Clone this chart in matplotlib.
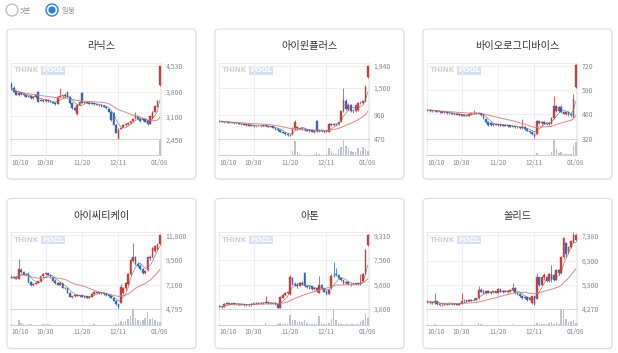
import matplotlib
matplotlib.use('Agg')
import matplotlib.pyplot as plt
from matplotlib.patches import FancyBboxPatch, Circle
import pandas as pd

plt.rcParams['font.family'] = ['Noto Sans CJK KR', 'DejaVu Sans']

# 종목 / 축 라벨
names = ['라닉스', '아이윈플러스', '바이오로그디바이스', '아이씨티케이', '아톤', '쏠리드']
date_labels = ['10/10', '10/30', '11/20', '12/11', '01/08']
date_pos = [0, 14, 29, 44, 61]
price_labels = [
    [4530, 3800, 3100, 2450],
    [1940, 1500, 960, 470],
    [720, 590, 460, 320],
    [11800, 9500, 7100, 4795],
    [9310, 7500, 5600, 3800],
    [7380, 6300, 5300, 4270],
]

# 라닉스
ranix_open = [4030, 3900, 3820, 3720, 3760, 3730, 3700, 3660, 3690, 3610, 3640, 3800, 3540, 3570, 3540, 3560,
              3530, 3510, 3490, 3450, 3660, 3690, 3700, 3800, 3660, 3480, 3340, 3170, 3430, 3760, 3490, 3500,
              3480, 3460, 3470, 3440, 3430, 3410, 3400, 3380, 3300, 3240, 3200, 2870, 2460, 2760, 2800, 2860,
              2890, 2910, 2960, 3060, 3100, 3040, 3000, 3020, 2960, 2900, 3060, 3240, 3380, 3990]
ranix_high = [4080, 3950, 3850, 3790, 3780, 3760, 3720, 3710, 3700, 3660, 3720, 3830, 3600, 3580, 3580, 3590,
              3560, 3530, 3500, 3690, 3890, 3720, 3760, 3830, 3680, 3500, 3380, 3450, 3540, 3800, 3530, 3520,
              3500, 3490, 3480, 3460, 3450, 3430, 3410, 3390, 3320, 3260, 3220, 2880, 2770, 2800, 2880, 2900,
              2930, 2980, 3060, 3220, 3120, 3060, 3040, 3050, 2990, 3120, 3260, 3420, 3560, 4530]
ranix_low = [3850, 3780, 3700, 3690, 3700, 3690, 3640, 3640, 3590, 3600, 3620, 3500, 3530, 3520, 3510, 3520,
             3500, 3470, 3430, 3440, 3640, 3650, 3650, 3640, 3460, 3320, 3260, 3130, 3410, 3470, 3480, 3470,
             3440, 3440, 3430, 3410, 3400, 3380, 3360, 3320, 3220, 2960, 2850, 2620, 2450, 2740, 2790, 2840,
             2870, 2900, 2950, 3040, 3020, 2940, 2980, 2930, 2860, 2880, 3040, 3220, 3360, 3960]
ranix_close = [3900, 3800, 3720, 3760, 3730, 3700, 3660, 3690, 3610, 3640, 3700, 3520, 3570, 3540, 3560, 3530,
               3510, 3490, 3450, 3660, 3690, 3700, 3670, 3660, 3480, 3340, 3290, 3430, 3520, 3490, 3500, 3480,
               3460, 3470, 3440, 3430, 3410, 3400, 3380, 3340, 3240, 3000, 2870, 2640, 2730, 2780, 2860, 2890,
               2910, 2960, 3040, 3140, 3040, 2960, 3020, 2950, 2900, 3100, 3240, 3400, 3540, 4520]
ranix_vol = [3, 2, 2, 2, 2, 1, 1, 1, 1, 1, 2, 3, 1, 1, 1, 1, 1, 1, 1, 3, 4, 2, 1, 2, 2, 3, 2, 3, 2, 3, 1, 1,
             1, 1, 1, 1, 1, 1, 1, 1, 2, 4, 4, 5, 6, 2, 2, 1, 1, 1, 2, 3, 2, 1, 1, 1, 1, 3, 4, 5, 6, 100]

# 아이윈플러스
iwin_open = [840, 830, 825, 815, 820, 805, 800, 790, 795, 775, 780, 760, 770, 745, 750, 730,
             740, 735, 740, 750, 735, 720, 735, 705, 670, 650, 620, 600, 570, 555, 570, 670,
             720, 670, 690, 670, 655, 640, 650, 620, 830, 640, 660, 630, 640, 620, 770, 760,
             785, 770, 830, 1040, 1240, 1080, 1160, 1040, 1030, 1060, 1200, 1190, 1230, 1720]
iwin_high = [850, 840, 835, 830, 825, 815, 810, 805, 800, 790, 785, 775, 775, 760, 755, 745,
             750, 745, 760, 755, 745, 740, 740, 710, 690, 665, 640, 610, 590, 575, 710, 850,
             740, 700, 700, 690, 670, 660, 660, 650, 850, 680, 670, 650, 660, 790, 800, 790,
             800, 830, 1060, 1500, 1280, 1200, 1180, 1080, 1170, 1210, 1230, 1240, 1560, 1940]
iwin_low = [815, 810, 805, 800, 795, 790, 780, 775, 770, 765, 755, 745, 740, 735, 725, 725,
            730, 720, 735, 730, 715, 715, 700, 660, 640, 610, 590, 560, 540, 540, 565, 660,
            660, 650, 660, 645, 630, 620, 610, 600, 620, 610, 620, 600, 610, 610, 740, 745,
            760, 765, 820, 1020, 1050, 1030, 1020, 1000, 1020, 1040, 1170, 1170, 1220, 1700]
iwin_close = [830, 825, 815, 820, 805, 800, 790, 795, 775, 780, 760, 770, 745, 750, 730, 740,
              735, 740, 750, 735, 720, 735, 705, 670, 650, 620, 600, 570, 555, 565, 700, 820,
              670, 690, 670, 655, 640, 650, 620, 640, 640, 660, 630, 640, 620, 770, 760, 785,
              770, 820, 1030, 1260, 1080, 1160, 1040, 1030, 1160, 1200, 1190, 1230, 1520, 1930]
iwin_vol = [3, 2, 2, 3, 2, 2, 2, 3, 2, 2, 2, 3, 2, 2, 3, 2, 2, 2, 4, 2, 2, 2, 3, 4, 4, 5, 4, 5, 5, 4, 30, 95,
            20, 8, 6, 6, 5, 5, 6, 7, 25, 8, 6, 6, 8, 45, 30, 15, 10, 40, 55, 100, 60, 45, 30, 20, 25, 45,
            30, 55, 40, 30]

# 바이오로그디바이스
biolog_open = [480, 478, 480, 474, 476, 470, 472, 466, 468, 462, 464, 458, 460, 454, 456, 450,
               452, 448, 458, 462, 466, 462, 464, 452, 434, 414, 410, 400, 404, 400, 402, 396,
               400, 394, 398, 390, 392, 386, 388, 380, 390, 376, 368, 360, 340, 352, 418, 408,
               416, 406, 410, 404, 436, 500, 476, 496, 470, 460, 468, 456, 440, 606]
biolog_high = [486, 484, 482, 480, 478, 476, 474, 472, 470, 468, 466, 462, 462, 458, 458, 456,
               454, 460, 466, 480, 470, 468, 466, 456, 438, 420, 414, 408, 410, 406, 404, 404,
               402, 400, 400, 396, 394, 392, 390, 430, 394, 380, 372, 364, 356, 424, 422, 420,
               418, 412, 414, 440, 554, 510, 500, 510, 476, 472, 470, 464, 566, 728]
biolog_low = [474, 472, 470, 468, 468, 466, 464, 462, 460, 458, 456, 452, 452, 450, 448, 446,
              446, 446, 454, 456, 458, 456, 450, 430, 410, 392, 396, 394, 398, 394, 394, 392,
              392, 390, 388, 386, 384, 382, 378, 378, 372, 364, 356, 346, 326, 348, 404, 400,
              402, 398, 400, 402, 430, 470, 470, 466, 456, 454, 450, 444, 436, 600]
biolog_close = [478, 480, 474, 476, 470, 472, 466, 468, 462, 464, 458, 460, 454, 456, 450, 452,
                448, 458, 462, 466, 462, 464, 452, 434, 414, 398, 400, 404, 400, 402, 396, 400,
                394, 398, 390, 392, 386, 388, 380, 390, 376, 368, 360, 350, 352, 418, 408, 416,
                406, 410, 404, 436, 500, 476, 496, 470, 460, 468, 456, 452, 540, 722]
biolog_vol = [2, 2, 1, 1, 1, 1, 1, 1, 1, 1, 1, 1, 1, 1, 1, 1, 1, 2, 2, 3, 2, 1, 1, 2, 3, 3, 2, 1, 1, 1, 1, 1,
              1, 1, 1, 1, 1, 1, 1, 3, 2, 2, 2, 2, 4, 15, 6, 4, 3, 2, 2, 20, 100, 40, 15, 25, 12, 10, 8, 10,
              70, 85]

# 아이씨티케이
ictk_open = [7850, 7750, 7850, 7650, 8550, 8300, 8050, 8100, 7350, 7100, 7200, 7300, 7450, 7900, 8150, 8200,
             8050, 7800, 7500, 7250, 7100, 7250, 6800, 6750, 6350, 5950, 6000, 6150, 6050, 6100, 5950, 6000,
             5850, 5950, 6250, 6450, 6350, 6400, 6300, 6200, 6100, 6000, 5850, 5600, 5250, 5400, 6300, 6750,
             7200, 8100, 9400, 9700, 9100, 8900, 8600, 8200, 8500, 9700, 9700, 10300, 10500, 10950]
ictk_high = [8000, 7900, 7900, 9560, 8700, 8400, 8150, 8300, 7450, 7250, 7350, 7500, 7950, 8250, 8300, 8250,
             8100, 7850, 7600, 7350, 7400, 7300, 6900, 6800, 6400, 6050, 6200, 6200, 6150, 6150, 6050, 6050,
             6000, 6300, 6500, 6500, 6450, 6450, 6350, 6250, 6150, 6050, 5900, 5650, 5300, 7200, 6900, 7400,
             8200, 9600, 11100, 9800, 9300, 9100, 8700, 8500, 9800, 9900, 10700, 10900, 11000, 11850]
ictk_low = [7700, 7700, 7600, 7600, 8200, 8000, 7900, 7300, 7000, 7000, 7150, 7250, 7400, 7850, 8050, 8000,
            7750, 7450, 7200, 7050, 7050, 6750, 6700, 6300, 5900, 5800, 5950, 6000, 5950, 5900, 5850, 5800,
            5800, 5900, 6200, 6300, 6250, 6250, 6150, 6050, 5950, 5800, 5550, 5200, 4830, 5350, 6200, 6600,
            7100, 8000, 9300, 9000, 8800, 8500, 8100, 8100, 8450, 9500, 9650, 10200, 10400, 10900]
ictk_close = [7750, 7850, 7650, 8600, 8300, 8050, 8100, 7350, 7100, 7200, 7300, 7450, 7900, 8150, 8200, 8050,
              7800, 7500, 7250, 7100, 7250, 6800, 6750, 6350, 5950, 6000, 6150, 6050, 6100, 5950, 6000, 5850,
              5950, 6250, 6450, 6350, 6400, 6300, 6200, 6100, 6000, 5850, 5600, 5250, 5000, 6900, 6750, 7300,
              8100, 9500, 9700, 9100, 8900, 8600, 8200, 8450, 9700, 9600, 10600, 10800, 10950, 11800]
ictk_vol = [4, 3, 3, 35, 10, 4, 3, 5, 4, 3, 2, 2, 3, 4, 8, 8, 7, 3, 2, 2, 3, 2, 2, 3, 3, 2, 2, 2, 2, 2, 2, 2,
            2, 3, 4, 3, 2, 2, 2, 2, 2, 2, 3, 4, 10, 25, 20, 25, 40, 60, 100, 45, 30, 25, 30, 45, 80, 40,
            45, 30, 25, 20]

# 아톤
aton_open = [4050, 3980, 3950, 4200, 4250, 4180, 4230, 4150, 4200, 4130, 4150, 4080, 4120, 4070, 4200, 4250,
             4220, 4280, 4230, 4260, 4300, 4240, 4200, 4250, 4150, 3900, 4650, 4850, 5000, 4900, 6100, 5700,
             5600, 5550, 5750, 6500, 5500, 5450, 5500, 5300, 5350, 5000, 5600, 5350, 5100, 4950, 5350, 6300,
             6450, 6350, 6100, 5950, 5750, 5850, 5650, 5700, 5650, 5720, 5650, 5900, 6450, 8550]
aton_high = [4100, 4020, 4250, 4300, 4280, 4260, 4270, 4250, 4230, 4200, 4180, 4150, 4160, 4250, 4280, 4300,
             4310, 4320, 4300, 4750, 4330, 4300, 4280, 4300, 4180, 4780, 4900, 5050, 5150, 6350, 6200, 5850,
             5750, 5800, 5900, 6600, 5600, 5550, 5520, 5400, 5380, 6300, 5650, 5400, 5200, 5300, 6400, 7350,
             6900, 6400, 6150, 6000, 5900, 5880, 5750, 5720, 5750, 5780, 6450, 6500, 8250, 9420]
aton_low = [3950, 3900, 3940, 4150, 4150, 4150, 4120, 4100, 4100, 4080, 4060, 4050, 4050, 4050, 4150, 4180,
            4200, 4200, 4180, 4220, 4200, 4180, 4150, 4130, 3850, 3880, 4600, 4800, 4950, 4880, 5600, 5500,
            5400, 5500, 5600, 5450, 5350, 5300, 5250, 5200, 5100, 4980, 5300, 5050, 4850, 4900, 5300, 6200,
            6300, 6050, 5900, 5700, 5650, 5600, 5550, 5600, 5580, 5600, 5600, 5850, 6400, 8500]
aton_close = [3980, 3950, 4200, 4250, 4180, 4230, 4150, 4200, 4130, 4150, 4080, 4120, 4070, 4200, 4250, 4220,
              4280, 4230, 4260, 4300, 4240, 4200, 4250, 4150, 3900, 4700, 4850, 5000, 5100, 6200, 5700, 5600,
              5550, 5750, 5650, 5500, 5450, 5500, 5300, 5350, 5150, 5600, 5350, 5100, 4950, 5250, 6300, 6250,
              6350, 6100, 5950, 5750, 5850, 5650, 5700, 5650, 5720, 5650, 5850, 6450, 8200, 9310]
aton_vol = [2, 2, 3, 3, 2, 2, 2, 2, 2, 2, 2, 2, 2, 3, 3, 2, 2, 2, 2, 15, 3, 2, 2, 2, 4, 12, 8, 6, 8, 65, 35, 30,
            20, 25, 20, 35, 10, 6, 6, 5, 6, 60, 10, 6, 6, 15, 40, 100, 35, 15, 8, 6, 6, 5, 5, 5, 6, 6, 25, 35,
            70, 45]

# 쏠리드
solid_open = [4600, 4560, 4580, 4520, 4600, 4460, 4420, 4450, 4500, 4460, 4510, 4470, 4490, 4450, 4500, 4620,
              4600, 4640, 4610, 4670, 4650, 4730, 5080, 5000, 4950, 5020, 4960, 4980, 5010, 4950, 5100, 5000,
              5050, 4990, 5040, 5060, 5150, 4950, 4920, 4800, 4740, 4760, 4660, 4520, 4800, 4700, 5600, 5300,
              5620, 5600, 5450, 5750, 5700, 5500, 5900, 5780, 6470, 7050, 6700, 6900, 7100, 7200]
solid_high = [4650, 4600, 4620, 4950, 4620, 4500, 4480, 4520, 4530, 4540, 4530, 4520, 4510, 4520, 4950, 4680,
              4660, 4680, 4700, 4720, 4750, 5220, 5150, 5100, 5050, 5060, 5000, 5050, 5040, 5150, 5120, 5080,
              5080, 5060, 5100, 5360, 5180, 5000, 4950, 4850, 4800, 4780, 4760, 4830, 4820, 5780, 5620, 5650,
              5800, 5650, 5780, 6130, 5740, 5950, 5950, 6500, 7320, 7100, 6950, 7180, 7520, 7420]
solid_low = [4530, 4500, 4500, 4500, 4440, 4400, 4380, 4420, 4430, 4440, 4440, 4430, 4420, 4430, 4480, 4580,
             4570, 4590, 4590, 4630, 4630, 4700, 4980, 4900, 4900, 4940, 4900, 4950, 4930, 4930, 4980, 4960,
             4970, 4960, 5000, 5040, 4900, 4880, 4780, 4700, 4680, 4620, 4640, 4500, 4450, 4680, 5230, 5280,
             5500, 5400, 5420, 5400, 5450, 5480, 5700, 5760, 6400, 6480, 6650, 6850, 7050, 7150]
solid_close = [4560, 4580, 4520, 4600, 4460, 4420, 4450, 4500, 4460, 4510, 4470, 4490, 4450, 4500, 4620, 4600,
               4640, 4610, 4670, 4650, 4720, 5080, 5000, 4950, 5020, 4960, 4980, 5010, 4950, 5100, 5000, 5050,
               4990, 5040, 5060, 5150, 4950, 4920, 4800, 4740, 4760, 4660, 4720, 4800, 4500, 5640, 5280, 5620,
               5700, 5450, 5750, 5500, 5500, 5900, 5780, 6470, 7250, 6600, 6900, 7150, 7380, 7380]
solid_vol = [2, 2, 2, 8, 2, 1, 1, 1, 1, 1, 1, 1, 1, 1, 8, 2, 3, 2, 2, 2, 3, 10, 4, 2, 2, 2, 1, 1, 1, 3, 2, 1,
             1, 1, 2, 5, 3, 2, 2, 2, 1, 2, 2, 3, 4, 15, 8, 6, 6, 5, 10, 20, 8, 15, 8, 100, 95, 40, 20, 25,
             30, 15]

opens = [ranix_open, iwin_open, biolog_open, ictk_open, aton_open, solid_open]
highs = [ranix_high, iwin_high, biolog_high, ictk_high, aton_high, solid_high]
lows = [ranix_low, iwin_low, biolog_low, ictk_low, aton_low, solid_low]
closes = [ranix_close, iwin_close, biolog_close, ictk_close, aton_close, solid_close]
volumes = [ranix_vol, iwin_vol, biolog_vol, ictk_vol, aton_vol, solid_vol]

W, H = 618, 353
fig = plt.figure(figsize=(W / 100, H / 100), dpi=100)
fig.patch.set_facecolor('white')


def px(left, top, w, h):
    # 픽셀 좌표 -> figure 좌표
    return [left / W, 1 - (top + h) / H, w / W, h / H]


bg = fig.add_axes([0, 0, 1, 1])
bg.set_xlim(0, W)
bg.set_ylim(H, 0)
bg.axis('off')

# 상단 라디오 버튼
bg.add_patch(Circle((12, 10), 6, fc='white', ec='#b0b0b0', lw=0.8))
bg.text(19.5, 10.5, '5분', fontsize=5.5, color='#999999', va='center')
bg.add_patch(Circle((52, 10), 6, fc='white', ec='#2f7de1', lw=1.0))
bg.add_patch(Circle((52, 10), 3.6, fc='#2f7de1', ec='none'))
bg.text(61, 10.5, '일봉', fontsize=5.5, color='#999999', va='center')

card_left = [7, 215, 423]
card_top = [29, 198.5]
cw, ch = 189, 150

up_c, down_c = '#d33a3a', '#3565c4'

for k in range(6):
    cx = card_left[k % 3]
    cy = card_top[k // 3]
    bg.add_patch(FancyBboxPatch((cx + 0.6, cy + 0.8), cw, ch, boxstyle='round,pad=0,rounding_size=4',
                                fc='#f0f0f0', ec='none'))
    bg.add_patch(FancyBboxPatch((cx, cy), cw, ch, boxstyle='round,pad=0,rounding_size=4',
                                fc='white', ec='#dcdcdc', lw=0.8))
    bg.text(cx + cw / 2, cy + 17.5, names[k], fontsize=7.3, color='#333333', ha='center', va='center')
    # 워터마크
    bg.text(cx + 7, cy + 41.5, 'THINK', fontsize=5.2, color='#d2d2d2', fontweight='bold',
            va='center', family='DejaVu Sans')
    bg.text(cx + 35, cy + 41.5, 'POOL', fontsize=5.2, color='white', fontweight='bold', va='center',
            family='DejaVu Sans', bbox=dict(boxstyle='square,pad=0.15', fc='#d3e1f1', ec='none'))

    o = opens[k]; hi = highs[k]; lo = lows[k]; c = closes[k]; v = volumes[k]
    n = len(c)
    labs = price_labels[k]
    ymin, ymax = labs[-1], labs[0]
    yr = ymax - ymin

    ax = fig.add_axes(px(cx + 3, cy + 33.5, 151, 77))
    axv = fig.add_axes(px(cx + 3, cy + 110.5, 151, 16))
    ax.set_facecolor('none')
    axv.set_facecolor('none')

    for i in range(n):
        col = up_c if c[i] >= o[i] else down_c
        ax.vlines(i, lo[i], hi[i], color=col, lw=0.55, zorder=3)
        ax.bar(i, c[i] - o[i], bottom=o[i], width=0.7, color=col, ec=col, lw=0.3, zorder=4)

    s = pd.Series(c)
    ax.plot(range(n), s.rolling(20, min_periods=1).mean(), color='#d98a8a', lw=0.7, zorder=5)
    ax.plot(range(n), s.rolling(5, min_periods=1).mean(), color='#4f6a5a', lw=0.45, alpha=0.8, zorder=5)

    ax.set_xlim(-0.6, n - 0.5)
    ax.set_ylim(ymin, ymax + 0.045 * yr)
    ax.set_yticks(labs)
    ax.set_yticklabels([f'{p:,}' for p in labs])
    ax.yaxis.tick_right()
    ax.set_xticks(date_pos)
    ax.tick_params(axis='x', labelbottom=False, length=0)
    ax.tick_params(axis='y', length=0, pad=3.5, labelsize=5.0, labelcolor='#8a8a8a')
    ax.grid(color='#ededed', lw=0.6)
    ax.set_axisbelow(True)
    for side in ['left', 'bottom']:
        ax.spines[side].set_visible(False)
    for side in ['top', 'right']:
        ax.spines[side].set_color('#e8e8e8')
        ax.spines[side].set_linewidth(0.6)

    axv.bar(range(n), v, width=0.62, color='#bcc2d4', zorder=3)
    axv.set_xlim(-0.6, n - 0.5)
    axv.set_ylim(0, max(v) * 1.02)
    axv.set_yticks([])
    axv.set_xticks(date_pos)
    axv.set_xticklabels(date_labels)
    axv.get_xticklabels()[0].set_ha('left')
    axv.tick_params(axis='x', length=0, pad=2.5, labelsize=4.8, labelcolor='#8a8a8a')
    axv.grid(axis='x', color='#ededed', lw=0.6)
    axv.set_axisbelow(True)
    axv.spines['left'].set_visible(False)
    axv.spines['top'].set_color('#d0d0d0')
    axv.spines['bottom'].set_color('#c8c8c8')
    axv.spines['right'].set_color('#e8e8e8')
    for side in ['top', 'bottom', 'right']:
        axv.spines[side].set_linewidth(0.6)

fig.savefig('out.png', dpi=100, facecolor='white')
